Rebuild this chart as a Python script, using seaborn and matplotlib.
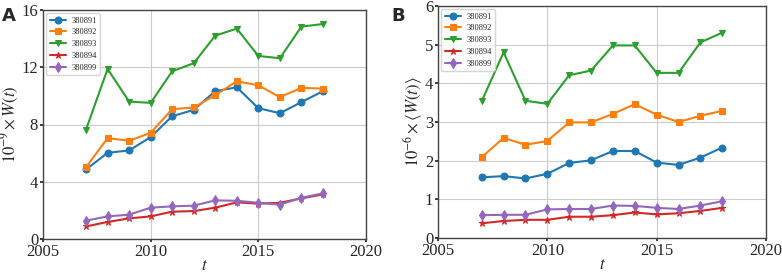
import matplotlib
matplotlib.use("Agg")
import matplotlib.pyplot as plt
import seaborn as sns
import pandas as pd

years = list(range(2007, 2019))
series_names = ["380891", "380892", "380893", "380894", "380899"]

# Panel A: 10^-9 x W(t)
a_380891 = [4.86, 6.02, 6.19, 7.12, 8.58, 9.02, 10.33, 10.6, 9.14, 8.79, 9.56, 10.33]
a_380892 = [5.02, 7.05, 6.86, 7.42, 9.07, 9.19, 10.05, 11.02, 10.74, 9.91, 10.56, 10.51]
a_380893 = [7.65, 11.88, 9.6, 9.51, 11.72, 12.28, 14.21, 14.7, 12.79, 12.63, 14.84, 15.02]
a_380894 = [0.88, 1.19, 1.44, 1.58, 1.91, 1.95, 2.19, 2.56, 2.47, 2.53, 2.84, 3.12]
a_380899 = [1.28, 1.58, 1.7, 2.19, 2.28, 2.33, 2.7, 2.67, 2.53, 2.4, 2.88, 3.19]

# Panel B: 10^-6 x <W(t)>
b_380891 = [1.57, 1.60, 1.54, 1.66, 1.94, 2.01, 2.25, 2.25, 1.95, 1.89, 2.08, 2.34]
b_380892 = [2.09, 2.59, 2.41, 2.51, 2.99, 2.99, 3.21, 3.46, 3.19, 3.00, 3.16, 3.29]
b_380893 = [3.54, 4.80, 3.55, 3.47, 4.21, 4.33, 4.98, 4.98, 4.27, 4.27, 5.06, 5.31]
b_380894 = [0.38, 0.44, 0.47, 0.47, 0.55, 0.55, 0.59, 0.66, 0.61, 0.64, 0.70, 0.78]
b_380899 = [0.59, 0.60, 0.60, 0.74, 0.75, 0.75, 0.84, 0.83, 0.78, 0.75, 0.84, 0.95]

panel_a = [a_380891, a_380892, a_380893, a_380894, a_380899]
panel_b = [b_380891, b_380892, b_380893, b_380894, b_380899]

sns.set_theme(style="ticks")
plt.rcParams["font.family"] = ["Liberation Serif", "DejaVu Serif"]
plt.rcParams["mathtext.fontset"] = "stix"

colors = ["#1f77b4", "#ff7f0e", "#2ca02c", "#d62728", "#9467bd"]
markers = ["o", "s", "v", "*", "d"]

fig = plt.figure(figsize=(7.82, 2.74), dpi=100)
axA = fig.add_axes([43/782, 1 - 239/274, 323/782, 229/274])
axB = fig.add_axes([438/782, 1 - 238/274, 328/782, 232/274])

def draw(ax, data, yticks, ylabel):
    for name, vals, c, m in zip(series_names, data, colors, markers):
        df = pd.DataFrame({"t": years, "v": vals})
        sns.lineplot(data=df, x="t", y="v", ax=ax, color=c, marker=m,
                     markersize=5, markeredgecolor=c,
                     linewidth=1.5, label=name)
    ax.set_xlim(2005, 2020)
    ax.set_xticks([2005, 2010, 2015, 2020])
    ax.set_ylim(yticks[0], yticks[-1])
    ax.set_yticks(yticks)
    ax.grid(True, color="#cccccc", linewidth=0.8)
    ax.tick_params(labelsize=12, length=2.5, pad=1)
    ax.set_xlabel("$t$", fontsize=12, labelpad=-1)
    ax.set_ylabel(ylabel, fontsize=12, labelpad=0)
    for s in ax.spines.values():
        s.set_color("#444444")
        s.set_linewidth(1.0)
    leg = ax.legend(loc="upper left", fontsize=6, frameon=True, handlelength=2,
                    borderpad=0.4, labelspacing=0.45, handletextpad=0.6,
                    borderaxespad=0.4)
    leg.get_frame().set_edgecolor("#cccccc")

draw(axA, panel_a, [0, 4, 8, 12, 16], r"$10^{-9}\times W(t)$")
draw(axB, panel_b, [0, 1, 2, 3, 4, 5, 6], r"$10^{-6}\times\langle W(t)\rangle$")

fig.text(2/782, 1 - 21/274, "A", fontsize=13, fontweight="bold", family="DejaVu Sans")
fig.text(391/782, 1 - 21/274, "B", fontsize=13, fontweight="bold", family="DejaVu Sans")

fig.savefig("out.png", dpi=100)
